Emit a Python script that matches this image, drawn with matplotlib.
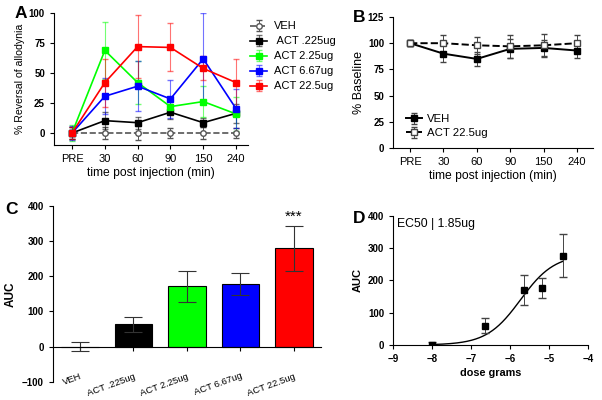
import numpy as np
import matplotlib
matplotlib.use('Agg')
import matplotlib.pyplot as plt

plt.rcParams['font.family'] = ['Liberation Sans', 'DejaVu Sans']

# ---- data ----
time_labels = ['PRE', '30', '60', '90', '150', '240']

# panel A: % reversal of allodynia
a_names = ['VEH', ' ACT .225ug', 'ACT 2.25ug', 'ACT 6.67ug', 'ACT 22.5ug']
a_veh = [0, 0, 0, 0, 0, 0]
a_veh_err = [5, 5, 6, 4, 5, 4]
a_225 = [0, 10.3, 8.6, 17.3, 8.6, 16.4]
a_225_err = [5, 7, 5, 6, 4, 8]
a_2250 = [0, 68.8, 42, 22, 26.2, 15.9]
a_2250_err = [7, 24, 18, 4, 13, 14]
a_667 = [0, 30.6, 39, 28.4, 61.8, 20.3]
a_667_err = [6, 15, 21, 16, 38, 16]
a_225ug = [0, 42, 72, 71.3, 53.8, 42]
a_225ug_err = [5, 20, 26, 20, 10, 20]

# panel B: % baseline
b_veh = [100, 90, 85, 94.6, 95.5, 93]
b_veh_err = [3, 8, 7, 9, 8, 7]
b_act = [100, 100, 98, 97, 98, 100]
b_act_err = [3, 8, 8, 11, 11, 8]

# panel C: AUC
c_labels = ['VEH', 'ACT .225ug', 'ACT 2.25ug', 'ACT 6.67ug', 'ACT 22.5ug']
c_auc = [0, 63, 172, 177, 279]
c_err = [12, 20, 44, 31, 64]
c_colors = ['black', 'black', '#00ff00', '#0000ff', '#ff0000']

# panel D: dose response (log10 grams)
d_dose = [-8.0, -6.65, -5.65, -5.18, -4.65]
d_auc = [0, 60, 170, 176, 276]
d_err = [8, 22, 45, 32, 66]
fit_top = 280
fit_logec50 = np.log10(1.85e-6)
fit_hill = 1.0

fig = plt.figure(figsize=(6.02, 4.0), dpi=100)

def style(ax):
    ax.spines['top'].set_visible(False)
    ax.spines['right'].set_visible(False)
    ax.tick_params(direction='out', length=3, width=0.8)

def bold_yticks(ax, size=7):
    for lab in ax.get_yticklabels():
        lab.set_fontweight('bold')
        lab.set_fontsize(size)

# ---------------- A ----------------
axA = fig.add_axes([0.0897, 0.6375, 0.322, 0.33])
x = np.arange(len(time_labels))
axA.errorbar(x, a_veh, yerr=a_veh_err, color='#555555', ls='--', lw=1.2,
             marker='o', ms=4, mfc='white', mec='#555555', capsize=2.5,
             elinewidth=0.7, label=a_names[0])
series = [(a_225, a_225_err, 'black'), (a_2250, a_2250_err, '#00ff00'),
          (a_667, a_667_err, '#0000ff'), (a_225ug, a_225ug_err, '#ff0000')]
for i, (vals, err, col) in enumerate(series):
    eb = axA.errorbar(x, vals, yerr=err, color=col, lw=1.2, marker='s', ms=4,
                      capsize=2.5, elinewidth=0.8, ecolor=col,
                      label=a_names[i + 1])
    for part in eb[1] + eb[2]:
        part.set_alpha(0.55)
axA.set_xlim(-0.55, 5.36)
axA.set_ylim(-10, 100)
axA.set_yticks([0, 25, 50, 75, 100])
axA.set_xticks(x)
axA.set_xticklabels(time_labels)
axA.tick_params(axis='x', labelsize=8)
bold_yticks(axA)
axA.set_xlabel('time post injection (min)', fontsize=8.7, labelpad=2)
axA.set_ylabel('% Reversal of allodynia', fontsize=7.6, labelpad=3)
style(axA)
axA.legend(loc='upper left', bbox_to_anchor=(0.99, 0.97), borderaxespad=0,
           frameon=False, fontsize=8, handlelength=1.5, labelspacing=0.45,
           handletextpad=0.6)
fig.text(0.024, 0.985, 'A', fontsize=12.5, fontweight='bold', va='top')

# ---------------- B ----------------
axB = fig.add_axes([0.653, 0.63, 0.332, 0.3275])
axB.errorbar(x, b_veh, yerr=b_veh_err, color='black', lw=1.4, marker='s',
             ms=4.5, capsize=2.5, elinewidth=0.7, ecolor='#444444', label='VEH')
axB.errorbar(x, b_act, yerr=b_act_err, color='black', lw=1.4, ls='--',
             marker='s', ms=4.5, mfc='white', mec='#444444', capsize=2.5,
             elinewidth=0.7, ecolor='#444444', label='ACT 22.5ug')
axB.set_xlim(-0.51, 5.48)
axB.set_ylim(0, 125)
axB.set_yticks([0, 25, 50, 75, 100, 125])
axB.set_xticks(x)
axB.set_xticklabels(time_labels)
axB.tick_params(axis='x', labelsize=8)
bold_yticks(axB)
axB.set_xlabel('time post injection (min)', fontsize=8.7, labelpad=2)
axB.set_ylabel('% Baseline', fontsize=9, labelpad=2)
style(axB)
axB.legend(loc='lower left', bbox_to_anchor=(0.04, 0.04), borderaxespad=0,
           frameon=False, fontsize=8.2, handlelength=1.4, labelspacing=0.35,
           handletextpad=0.5)
fig.text(0.587, 0.975, 'B', fontsize=12.5, fontweight='bold', va='top')

# ---------------- C ----------------
axC = fig.add_axes([0.088, 0.045, 0.445, 0.441])
xc = np.arange(len(c_labels))
axC.bar(xc, c_auc, width=0.7, color=c_colors, edgecolor='black', lw=0.8)
axC.errorbar(xc, c_auc, yerr=c_err, fmt='none', ecolor='#333333',
             elinewidth=0.8, capsize=6.5, capthick=0.8)
axC.text(xc[-1], c_auc[-1] + c_err[-1] + 6, '***', ha='center', va='bottom',
         fontsize=11)
axC.set_xlim(-0.5, 4.5)
axC.set_ylim(-100, 400)
axC.set_yticks([-100, 0, 100, 200, 300, 400])
axC.spines['bottom'].set_position(('data', 0))
axC.set_xticks(xc)
axC.set_xticklabels(c_labels, rotation=20, ha='right', rotation_mode='anchor')
axC.tick_params(axis='x', labelsize=6.8, pad=15)
bold_yticks(axC)
axC.set_ylabel('AUC', fontsize=8.5, fontweight='bold', labelpad=4)
style(axC)
fig.text(0.008, 0.495, 'C', fontsize=12.5, fontweight='bold', va='top')

# ---------------- D ----------------
axD = fig.add_axes([0.653, 0.1375, 0.324, 0.3235])
xs = np.linspace(d_dose[0], d_dose[-1], 200)
axD.plot(xs, fit_top / (1 + 10 ** ((fit_logec50 - xs) * fit_hill)),
         color='black', lw=1.0)
axD.errorbar(d_dose, d_auc, yerr=d_err, fmt='s', color='black', ms=4.5,
             ecolor='#444444', elinewidth=0.7, capsize=3)
axD.set_xlim(-9, -4)
axD.set_ylim(0, 400)
axD.set_yticks([0, 100, 200, 300, 400])
axD.set_xticks([-9, -8, -7, -6, -5, -4])
axD.tick_params(labelsize=7)
for lab in axD.get_xticklabels() + axD.get_yticklabels():
    lab.set_fontweight('bold')
axD.set_xlabel('dose grams', fontsize=7.8, fontweight='bold', labelpad=3)
axD.set_ylabel('AUC', fontsize=8, fontweight='bold', labelpad=4)
axD.text(0.02, 0.98, 'EC50 | 1.85ug', transform=axD.transAxes, fontsize=8.8,
         va='top')
style(axD)
fig.text(0.586, 0.472, 'D', fontsize=12.5, fontweight='bold', va='top')

fig.savefig('out.png', dpi=100)
